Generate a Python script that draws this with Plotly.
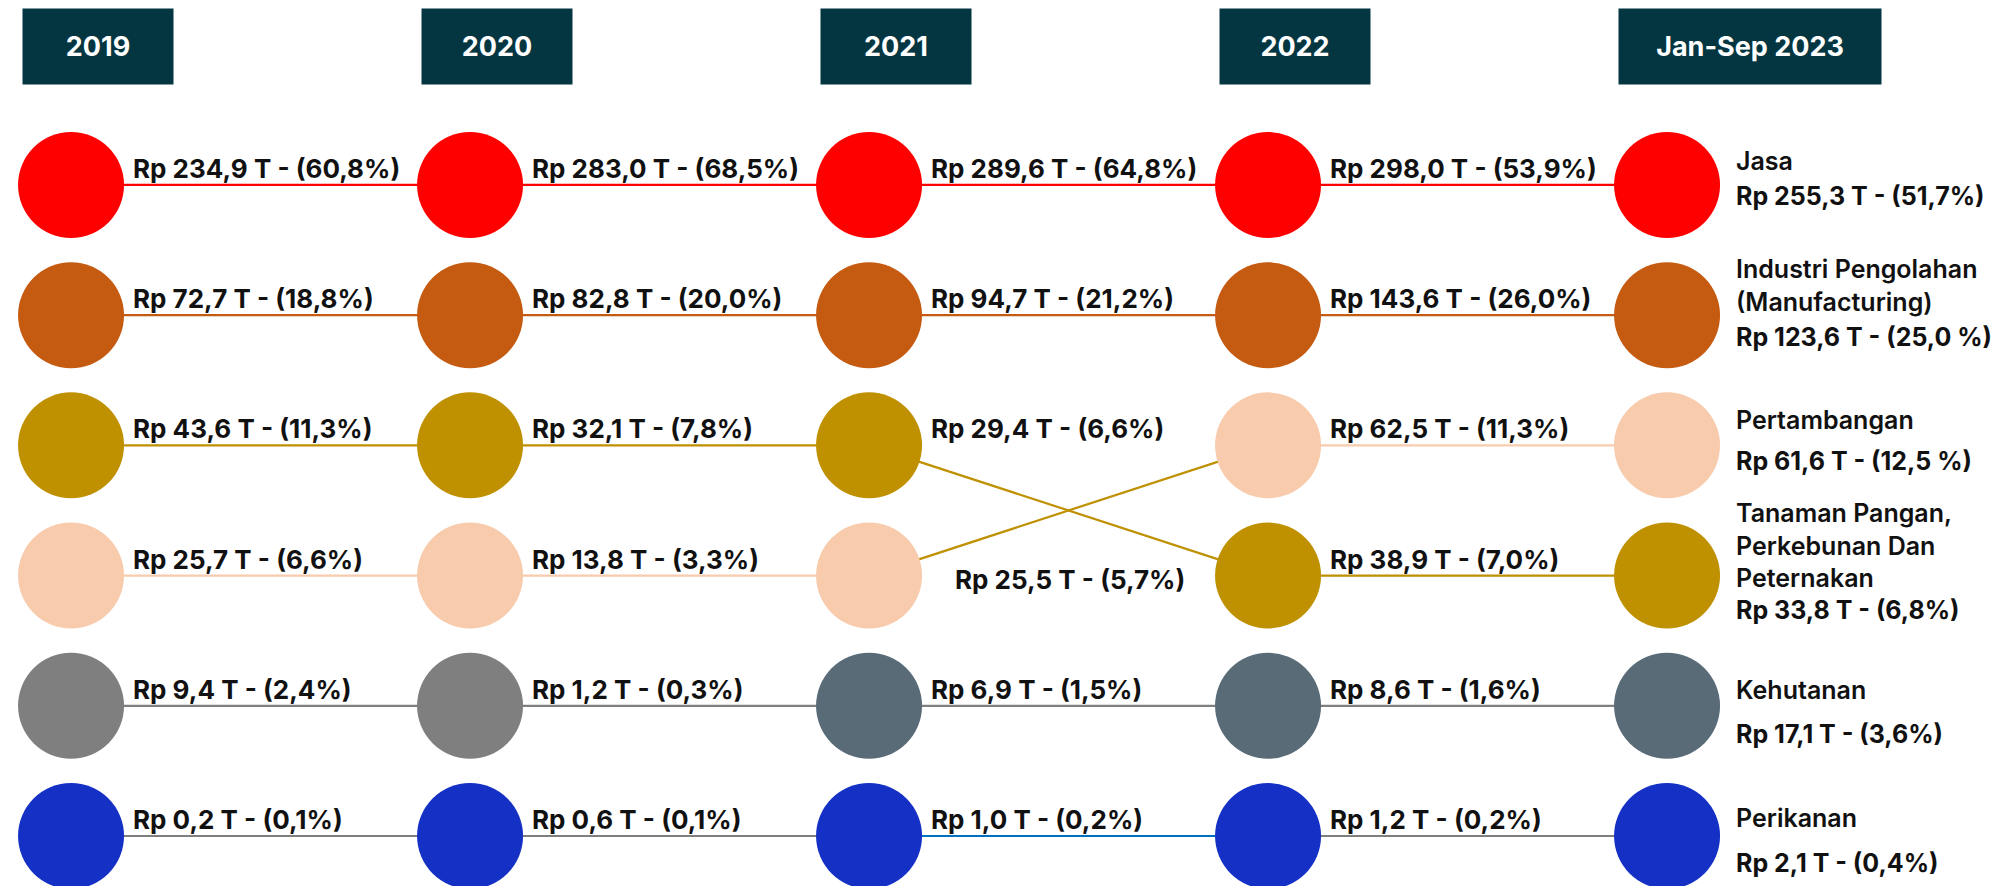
import plotly.graph_objects as go

# ---------------- data ----------------
years = ["2019", "2020", "2021", "2022", "Jan-Sep 2023"]
sectors = [
    "Jasa",
    "Industri Pengolahan<br>(Manufacturing)",
    "Pertambangan",
    "Tanaman Pangan,<br>Perkebunan Dan<br>Peternakan",
    "Kehutanan",
    "Perikanan",
]
value_jasa = [234.9, 283.0, 289.6, 298.0, 255.3]
value_industri = [72.7, 82.8, 94.7, 143.6, 123.6]
value_tambang = [25.7, 13.8, 25.5, 62.5, 61.6]
value_tanaman = [43.6, 32.1, 29.4, 38.9, 33.8]
value_hutan = [9.4, 1.2, 6.9, 8.6, 17.1]
value_ikan = [0.2, 0.6, 1.0, 1.2, 2.1]

share_jasa = [60.8, 68.5, 64.8, 53.9, 51.7]
share_industri = [18.8, 20.0, 21.2, 26.0, 25.0]
share_tambang = [6.6, 3.3, 5.7, 11.3, 12.5]
share_tanaman = [11.3, 7.8, 6.6, 7.0, 6.8]
share_hutan = [2.4, 0.3, 1.5, 1.6, 3.6]
share_ikan = [0.1, 0.1, 0.2, 0.2, 0.4]

values = [value_jasa, value_industri, value_tambang, value_tanaman, value_hutan, value_ikan]
shares = [share_jasa, share_industri, share_tambang, share_tanaman, share_hutan, share_ikan]

# ---------------- styles ----------------
RED, BROWN, PEACH, GOLD = "#FF0000", "#C55A11", "#F8CBAD", "#BF9000"
GRAY, SLATE, BLUE, LBLUE = "#7F7F7F", "#5A6B78", "#1530C4", "#0070C0"
HEADER = "#043642"
circle_colors = [RED, BROWN, PEACH, GOLD, SLATE, BLUE]
circle_color_override = {(4, 0): GRAY, (4, 1): GRAY}
line_colors = [RED, BROWN, PEACH, GOLD, GRAY, GRAY]
line_color_override = {(2, 2): GOLD, (5, 2): LBLUE}
pct_space_2023 = [False, True, True, False, False, False]
label_override = {(2, 2): dict(xshift=84, yanchor="top", yshift=14)}
name_yshift_2023 = [7, -4, 8, -19, -1, 1]
value_yshift_2023 = [6, -5, 1, -17, -11, -10]
header_widths = [150, 150, 150, 150, 262]
FONT = "Inter"
MARKER = 106
W, H = 2001, 878  # page body keeps an 8px margin


def fmt(v, s, space=False):
    return ("Rp %.1f T - (%.1f%s)" % (v, s, " %" if space else "%")).replace(".", ",")


# rank of each sector within each year (1 = largest)
ranks = [[0] * len(years) for _ in sectors]
for j in range(len(years)):
    order = sorted(range(len(sectors)), key=lambda i: -values[i][j])
    for r, i in enumerate(order):
        ranks[i][j] = r + 1

fig = go.Figure()

# connecting lines
for i in range(len(sectors)):
    for j in range(len(years) - 1):
        col = line_color_override.get((i, j), line_colors[i])
        fig.add_trace(go.Scatter(
            x=[j, j + 1], y=[ranks[i][j], ranks[i][j + 1]], mode="lines",
            line=dict(color=col, width=2.2), hoverinfo="skip", showlegend=False))

# circles
for i in range(len(sectors)):
    cols = [circle_color_override.get((i, j), circle_colors[i]) for j in range(len(years))]
    fig.add_trace(go.Scatter(
        x=list(range(len(years))), y=ranks[i], mode="markers",
        marker=dict(size=MARKER, color=cols, line=dict(width=0)),
        hoverinfo="skip", showlegend=False, cliponaxis=False))

annotations = []
# value labels for 2019-2022
for i in range(len(sectors)):
    for j in range(len(years) - 1):
        a = dict(x=j, y=ranks[i][j], xref="x", yref="y", text=fmt(values[i][j], shares[i][j]),
                 showarrow=False, xanchor="left", yanchor="bottom", xshift=60, yshift=-1,
                 font=dict(family=FONT, size=26, color="#111111", weight=700))
        a.update(label_override.get((i, j), {}))
        annotations.append(a)

# 2023 labels: sector name above, value below
j = len(years) - 1
for i in range(len(sectors)):
    annotations.append(dict(x=j, y=ranks[i][j], xref="x", yref="y", text=sectors[i], showarrow=False,
                            xanchor="left", yanchor="bottom", xshift=67, yshift=name_yshift_2023[i],
                            align="left",
                            font=dict(family=FONT, size=25, color="#111111", weight=600)))
    annotations.append(dict(x=j, y=ranks[i][j], xref="x", yref="y",
                            text=fmt(values[i][j], shares[i][j], pct_space_2023[i]), showarrow=False,
                            xanchor="left", yanchor="top", xshift=67, yshift=value_yshift_2023[i],
                            align="left",
                            font=dict(family=FONT, size=25, color="#111111", weight=700)))

# year headers
for j, y in enumerate(years):
    annotations.append(dict(x=j, xref="x", y=1, yref="paper", text=y, showarrow=False,
                            xanchor="left", yanchor="top", xshift=-MARKER / 2 + 4, yshift=0,
                            width=header_widths[j], height=75, bgcolor=HEADER, borderpad=0,
                            align="center", valign="middle",
                            font=dict(family=FONT, size=27, color="white", weight=700)))

fig.update_layout(
    width=W, height=H, margin=dict(l=0, r=0, t=0, b=0),
    paper_bgcolor="white", plot_bgcolor="white", showlegend=False,
    xaxis=dict(visible=False, range=[-0.158, 4.857]),
    yaxis=dict(visible=False, range=[6.384, -0.359]),
    annotations=annotations,
)
fig.write_html("out.html")
